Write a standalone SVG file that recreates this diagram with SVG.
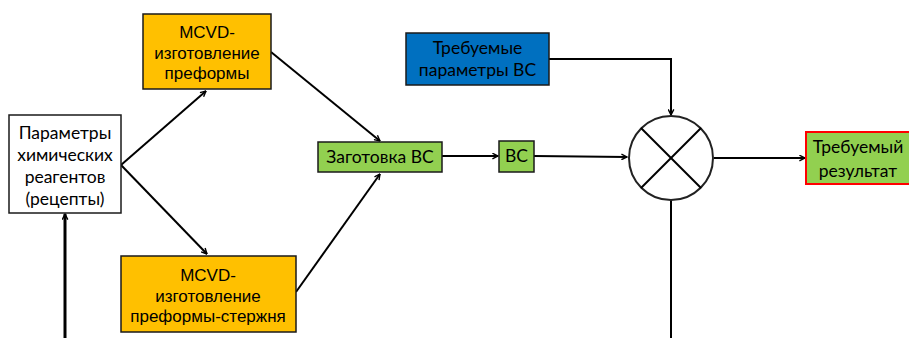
<svg xmlns="http://www.w3.org/2000/svg" width="909" height="338" viewBox="0 0 909 338">
<style>
.box{stroke:#1a1a1a;stroke-width:1.5}
.cal{font-family:Lato,"Open Sans","Liberation Sans",sans-serif;font-size:17.5px;fill:#000;text-anchor:middle}
.ari{font-family:"Liberation Sans",Arial,sans-serif;font-size:17px;fill:#000;text-anchor:middle}
.ln{stroke:#000;stroke-width:2;fill:none}
.thick{stroke-width:3}
</style>
<defs>
<marker id="ah" viewBox="0 0 10 10" refX="9" refY="5" markerWidth="7" markerHeight="7" markerUnits="userSpaceOnUse" orient="auto">
<path d="M1,1 L9,5 L1,9" fill="none" stroke="#000" stroke-width="2"/>
</marker>
</defs>
<rect width="909" height="338" fill="#fff"/>
<g id="connectors">
<line class="ln" x1="121" y1="165" x2="206" y2="91" marker-end="url(#ah)"/>
<line class="ln" x1="121" y1="165" x2="207" y2="254" marker-end="url(#ah)"/>
<line class="ln" x1="271" y1="52" x2="380" y2="141" marker-end="url(#ah)"/>
<line class="ln" x1="296" y1="292" x2="380" y2="174" marker-end="url(#ah)"/>
<line class="ln" x1="442" y1="156" x2="498" y2="156" marker-end="url(#ah)"/>
<line class="ln" x1="534" y1="156" x2="627" y2="157" marker-end="url(#ah)"/>
<polyline class="ln" points="549,59 671,59 671,115" marker-end="url(#ah)"/>
<line class="ln" x1="714" y1="158" x2="805" y2="158" marker-end="url(#ah)"/>
<line class="ln" x1="671" y1="200" x2="671" y2="338"/>
<line class="ln thick" x1="65" y1="338" x2="65" y2="214" marker-end="url(#ah)"/>
</g>
<g id="params">
<rect class="box" x="9" y="115" width="112" height="98" fill="#fff"/>
<text class="cal" x="65" y="139">Параметры</text>
<text class="cal" x="65" y="161">химических</text>
<text class="cal" x="65" y="183">реагентов</text>
<text class="cal" x="65" y="205">(рецепты)</text>
</g>
<g id="mcvd1">
<rect class="box" x="143" y="14" width="128" height="75" fill="#FFC000"/>
<text class="ari" x="207" y="38">MCVD-</text>
<text class="ari" x="207" y="59">изготовление</text>
<text class="ari" x="207" y="79">преформы</text>
</g>
<g id="mcvd2">
<rect class="box" x="121" y="256" width="175" height="76" fill="#FFC000"/>
<text class="ari" x="208" y="281">MCVD-</text>
<text class="ari" x="208" y="302">изготовление</text>
<text class="ari" x="208" y="322">преформы-стержня</text>
</g>
<g id="zagotovka">
<rect class="box" x="318" y="142" width="124" height="30" fill="#92D050"/>
<text class="cal" x="380" y="163">Заготовка ВС</text>
</g>
<g id="vs">
<rect class="box" x="499" y="141" width="35" height="31" fill="#92D050"/>
<text class="cal" x="516.5" y="162">ВС</text>
</g>
<g id="required-params">
<rect class="box" x="406" y="33" width="143" height="52" fill="#0070C0"/>
<text class="cal" x="477.5" y="54">Требуемые</text>
<text class="cal" x="477.5" y="76">параметры ВС</text>
</g>
<g id="comparator">
<circle cx="671" cy="158" r="42" fill="#fff" stroke="#222" stroke-width="2"/>
<line class="ln" x1="641" y1="128" x2="701" y2="188"/>
<line class="ln" x1="701" y1="128" x2="641" y2="188"/>
</g>
<g id="result">
<rect x="806" y="132" width="105" height="52" fill="#92D050" stroke="#FF0000" stroke-width="2"/>
<text class="cal" x="858" y="153">Требуемый</text>
<text class="cal" x="858" y="177">результат</text>
</g>
</svg>
